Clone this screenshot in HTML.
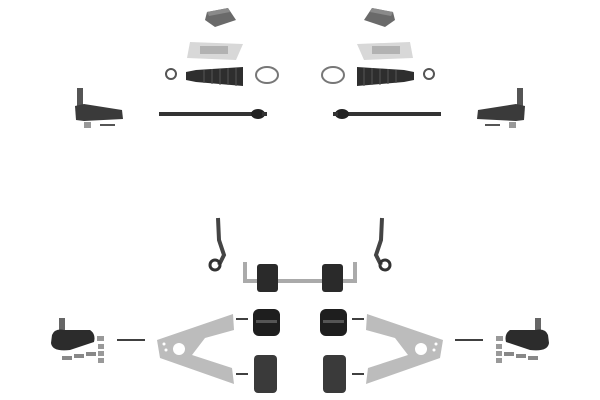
<!DOCTYPE html>
<html><head><meta charset="utf-8"><style>
html,body{margin:0;padding:0;background:#fff;width:600px;height:400px;overflow:hidden}
</style></head><body>
<svg width="600" height="400" viewBox="0 0 600 400" xmlns="http://www.w3.org/2000/svg">
<defs>
<g id="half">
  <!-- box -->
  <polygon points="207,12 228,8 236,20 215,27 205,20" fill="#6a6a6a"/>
  <polygon points="207,12 228,8 230,12 209,16" fill="#8a8a8a"/>
  <!-- sealant pack -->
  <polygon points="190,42 243,44 236,60 187,58" fill="#d8d8d8"/>
  <rect x="200" y="46" width="28" height="8" fill="#9a9a9a" opacity="0.6"/>
  <!-- small clamp -->
  <circle cx="171" cy="74" r="5" fill="none" stroke="#555" stroke-width="2"/>
  <!-- boot -->
  <path d="M186,72 L196,70 L243,67 L243,86 L196,82 L186,80 Z" fill="#2e2e2e"/>
  <g stroke="#555" stroke-width="1">
    <line x1="204" y1="70" x2="204" y2="83"/><line x1="212" y1="69" x2="212" y2="84"/>
    <line x1="220" y1="69" x2="220" y2="85"/><line x1="228" y1="68" x2="228" y2="85"/>
    <line x1="236" y1="68" x2="236" y2="86"/>
  </g>
  <!-- ring clamp -->
  <ellipse cx="267" cy="75" rx="11" ry="8" fill="none" stroke="#777" stroke-width="2"/>
  <!-- tie rod -->
  <rect x="159" y="112" width="100" height="4" fill="#333"/>
  <ellipse cx="258" cy="114" rx="7" ry="5" fill="#222"/>
  <rect x="262" y="112" width="5" height="4" fill="#333"/>
  <!-- tie rod end -->
  <rect x="77" y="88" width="6" height="20" fill="#555"/>
  <path d="M75,106 L84,104 L122,110 L123,119 L84,121 L76,120 Z" fill="#3a3a3a"/>
  <rect x="84" y="122" width="7" height="6" fill="#999"/>
  <rect x="100" y="124" width="15" height="2" fill="#555"/>
  <!-- drop link -->
  <path d="M218,218 L219,240 L224,255 L219,265" stroke="#444" stroke-width="4" fill="none"/>
  <circle cx="215" cy="265" r="5" fill="none" stroke="#333" stroke-width="3"/>
  <!-- sway bar -->
  <path d="M245,262 L245,281 L300,281" stroke="#aaa" stroke-width="4" fill="none"/>
  <rect x="257" y="264" width="21" height="28" rx="3" fill="#2a2a2a"/>
  <!-- control arm -->
  <path d="M157,340 L233,314 L234,330 L205,338 L192,355 L232,368 L234,384 L160,358 Z" fill="#bcbcbc"/>
  <circle cx="179" cy="349" r="6" fill="#fff"/>
  <circle cx="164" cy="344" r="1.5" fill="#fff"/><circle cx="166" cy="350" r="1.5" fill="#fff"/>
  <!-- connector lines -->
  <line x1="117" y1="340" x2="145" y2="340" stroke="#000" stroke-width="1.5"/>
  <line x1="236" y1="319" x2="248" y2="319" stroke="#000" stroke-width="1.5"/>
  <line x1="236" y1="374" x2="248" y2="374" stroke="#000" stroke-width="1.5"/>
  <!-- bushings -->
  <rect x="253" y="309" width="27" height="27" rx="6" fill="#1e1e1e"/>
  <rect x="256" y="320" width="21" height="3" fill="#555"/>
  <rect x="254" y="355" width="23" height="38" rx="4" fill="#3a3a3a"/>
  <!-- ball joint -->
  <rect x="59" y="318" width="6" height="14" fill="#666"/>
  <path d="M52,335 Q55,328 64,330 L90,330 Q96,334 94,342 L70,350 Q52,352 51,343 Z" fill="#2c2c2c"/>
  <g fill="#888">
    <rect x="62" y="356" width="10" height="4"/><rect x="74" y="354" width="10" height="4"/><rect x="86" y="352" width="10" height="4"/>
  </g>
  <g fill="#999">
    <rect x="97" y="336" width="7" height="5"/><rect x="98" y="344" width="6" height="5"/><rect x="98" y="351" width="6" height="5"/><rect x="98" y="358" width="6" height="5"/>
  </g>
</g>
</defs>
<use href="#half"/>
<use href="#half" transform="translate(600,0) scale(-1,1)"/>
</svg>
</body></html>
